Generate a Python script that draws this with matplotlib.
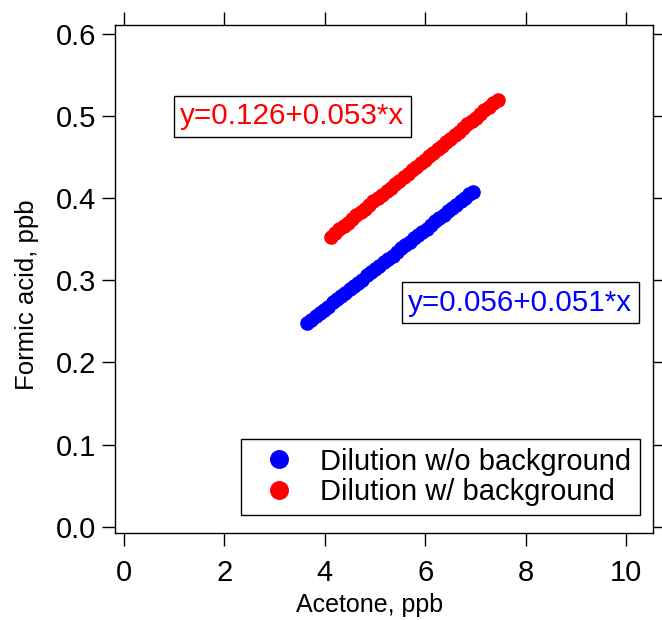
import matplotlib
matplotlib.use("Agg")
import matplotlib.pyplot as plt

plt.rcParams["font.family"] = ["Liberation Sans", "DejaVu Sans"]

# Dilution w/o background (blue)
blue_x = [3.65, 3.73, 3.82, 3.90, 3.99, 4.07, 4.16, 4.24, 4.33, 4.41, 4.50, 4.58, 4.67, 4.75,
          4.84, 4.92, 5.01, 5.09, 5.18, 5.26, 5.35, 5.43, 5.52, 5.60, 5.69, 5.77, 5.86, 5.94,
          6.03, 6.11, 6.20, 6.28, 6.37, 6.45, 6.54, 6.62, 6.71, 6.79, 6.88, 6.95]
blue_y = [0.248, 0.252, 0.256, 0.260, 0.264, 0.268, 0.273, 0.277, 0.281, 0.285, 0.289, 0.293,
          0.297, 0.301, 0.306, 0.310, 0.314, 0.318, 0.322, 0.326, 0.330, 0.334, 0.339, 0.343,
          0.347, 0.351, 0.355, 0.359, 0.363, 0.367, 0.372, 0.376, 0.380, 0.384, 0.388, 0.392,
          0.396, 0.400, 0.405, 0.408]

# Dilution w/ background (red)
red_x = [4.12, 4.21, 4.29, 4.38, 4.46, 4.55, 4.63, 4.72, 4.80, 4.89, 4.97, 5.06, 5.14, 5.23,
         5.31, 5.40, 5.48, 5.57, 5.65, 5.74, 5.82, 5.91, 5.99, 6.08, 6.16, 6.25, 6.33, 6.42,
         6.50, 6.59, 6.67, 6.76, 6.84, 6.93, 7.01, 7.10, 7.18, 7.27, 7.36, 7.45]
red_y = [0.353, 0.358, 0.362, 0.366, 0.370, 0.375, 0.379, 0.383, 0.387, 0.392, 0.396, 0.400,
         0.404, 0.409, 0.413, 0.417, 0.421, 0.426, 0.430, 0.434, 0.438, 0.443, 0.447, 0.451,
         0.455, 0.460, 0.464, 0.468, 0.472, 0.477, 0.481, 0.486, 0.490, 0.494, 0.498, 0.503,
         0.507, 0.511, 0.516, 0.520]

labels = ["Dilution w/o background", "Dilution w/ background"]
fit_text = ["y=0.056+0.051*x", "y=0.126+0.053*x"]
fit_pos = [(5.66, 0.2725), (1.12, 0.4996)]
xticks = [0, 2, 4, 6, 8, 10]
yticks = [0.0, 0.1, 0.2, 0.3, 0.4, 0.5, 0.6]

BLUE = "#0000ff"
RED = "#ff0000"

fig = plt.figure(figsize=(6.62, 6.2), dpi=100)
ax = fig.add_axes([0.1737, 0.1403, 0.8127, 0.8199])

ax.plot(blue_x, blue_y, "o", color=BLUE, ms=10.5, mew=0, label=labels[0])
ax.plot(red_x, red_y, "o", color=RED, ms=10.5, mew=0, label=labels[1])

ax.set_xlim(-0.18, 10.54)
ax.set_ylim(-0.0077, 0.6113)
ax.set_xticks(xticks)
ax.set_yticks(yticks)
ax.set_xticklabels([str(t) for t in xticks])
ax.set_yticklabels([f"{t:.1f}" for t in yticks])
ax.tick_params(direction="out", length=9.4, width=1, labelsize=21,
               top=True, right=True, labeltop=False, labelright=False)
ax.tick_params(axis="x", pad=9)
ax.tick_params(axis="y", pad=4)
for sp in ax.spines.values():
    sp.set_linewidth(1)

ax.set_xlabel("Acetone, ppb", fontsize=18, labelpad=3)
ax.set_ylabel("Formic acid, ppb", fontsize=18.5, labelpad=12)
# Igor-style label placement, a bit off centre
ax.xaxis.set_label_coords(0.474, -0.118)
ax.yaxis.label.set_y(0.468)

for txt, (tx, ty), c in zip(fit_text, fit_pos, [BLUE, RED]):
    ax.text(tx, ty, txt, color=c, fontsize=21.3, ha="left", va="center",
            bbox=dict(boxstyle="square,pad=0.22", fc="white", ec="black", lw=1))

leg = ax.legend(loc="lower right", bbox_to_anchor=(0.976, 0.035), borderaxespad=0,
                fontsize=21, fancybox=False, edgecolor="black", framealpha=1,
                markerscale=1.3, handletextpad=0.4, labelspacing=0.1,
                borderpad=0.3, handlelength=2.0)
leg.get_frame().set_linewidth(1)

fig.savefig("out.png", dpi=100)
